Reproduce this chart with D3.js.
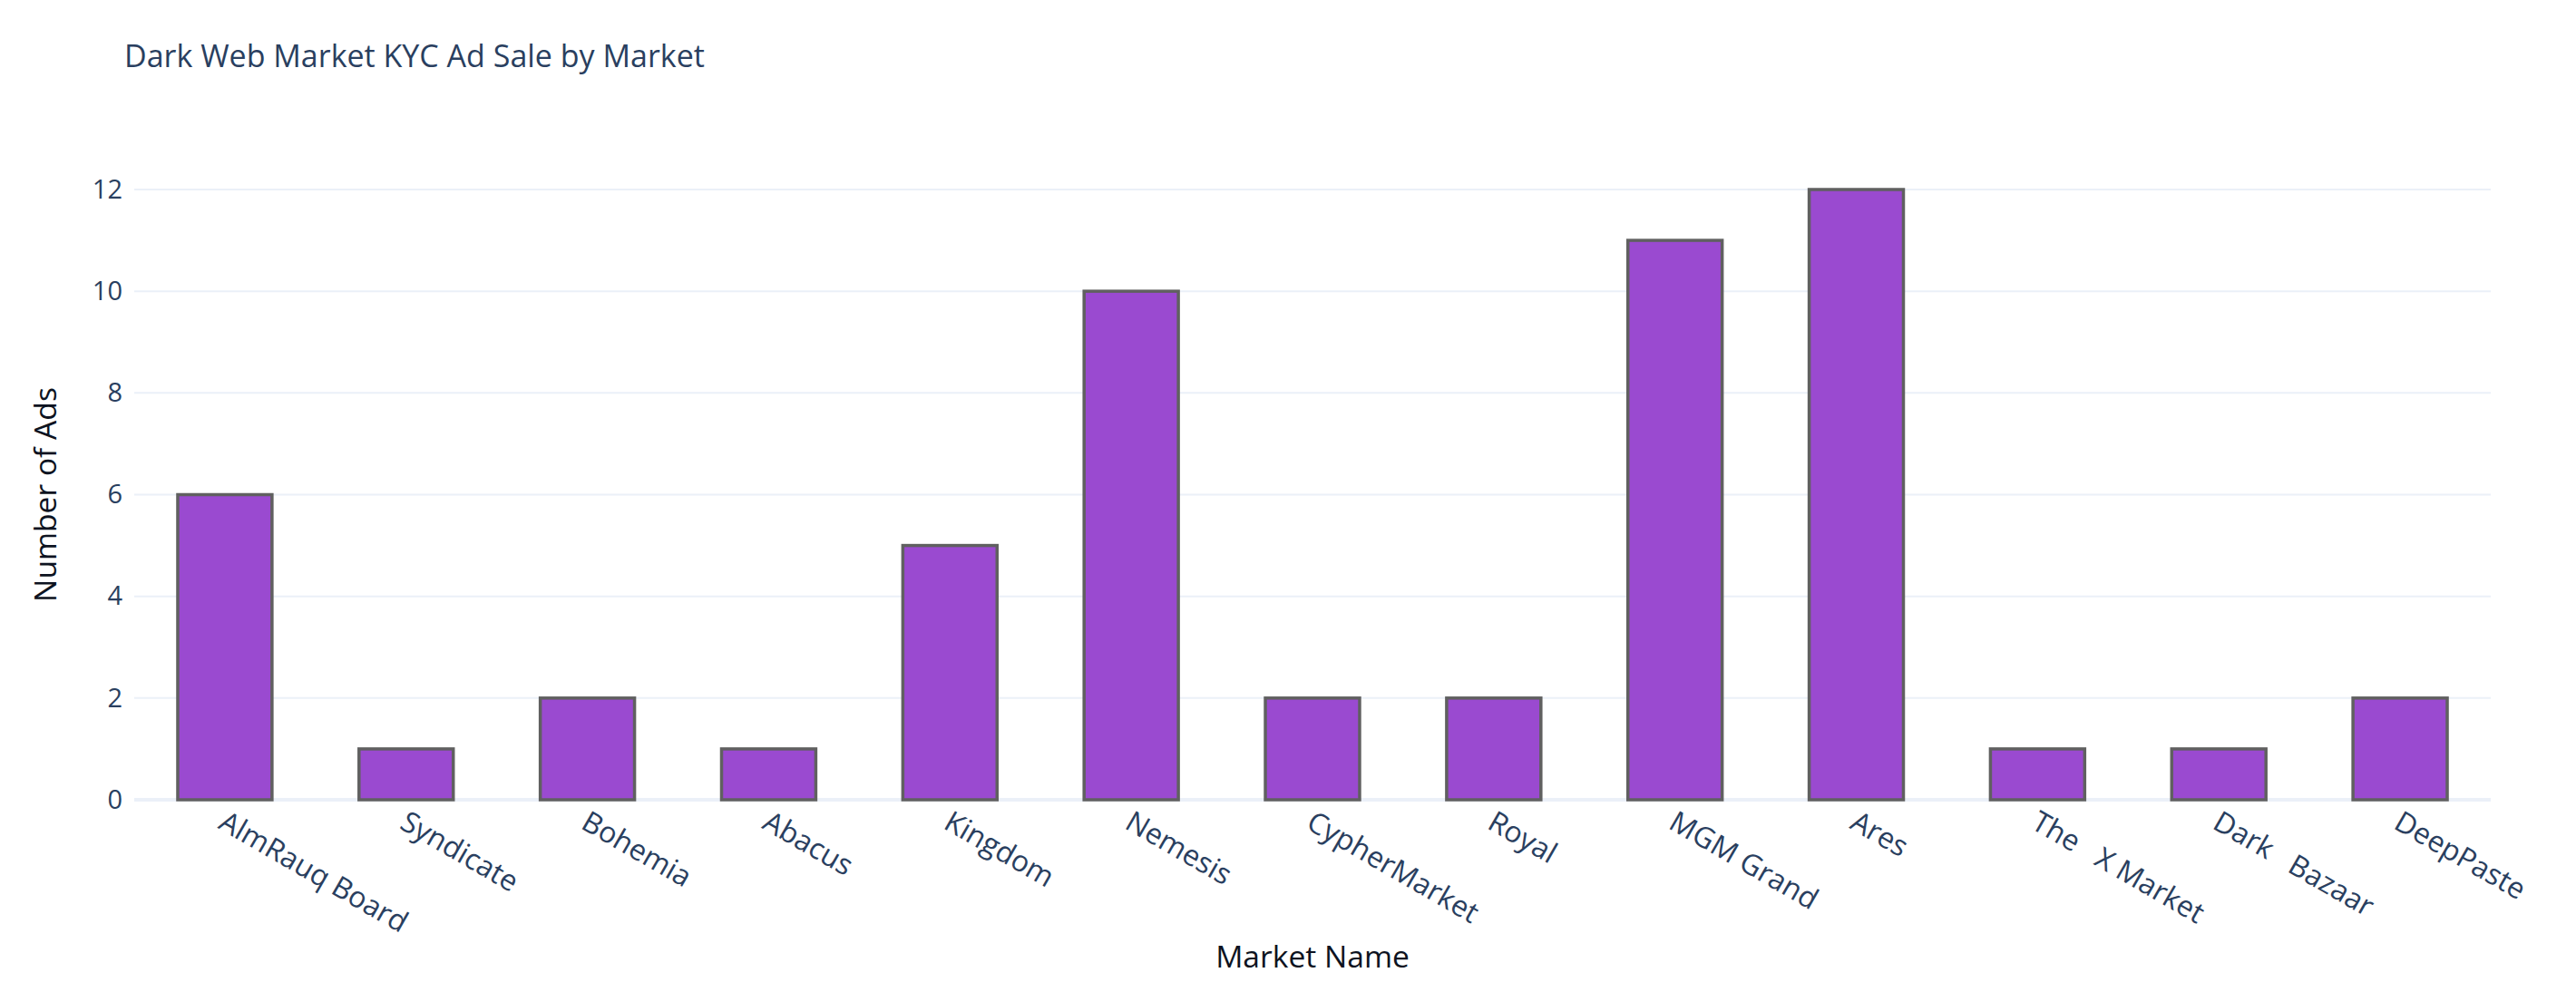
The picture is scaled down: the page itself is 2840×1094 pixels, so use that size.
<!DOCTYPE html>
<html>
<head>
<meta charset="utf-8">
<script src="https://cdn.jsdelivr.net/npm/d3@7"></script>
<style>
  html, body { margin: 0; padding: 0; background: #fff; }
  svg text { font-family: "Open Sans", "DejaVu Sans", sans-serif; }
</style>
</head>
<body>
<svg id="chart" width="2840" height="1094"></svg>
<script>
const chartTitle = "Dark Web Market KYC Ad Sale by Market";
const xAxisTitle = "Market Name";
const yAxisTitle = "Number of Ads";
const markets = ["AlmRauq Board", "Syndicate", "Bohemia", "Abacus", "Kingdom", "Nemesis",
  "CypherMarket", "Royal", "MGM Grand", "Ares", "The   X Market", "Dark   Bazaar", "DeepPaste"];
const adCounts = [6, 1, 2, 1, 5, 10, 2, 2, 11, 12, 1, 1, 2];
const yTicks = [0, 2, 4, 6, 8, 10, 12];

const svg = d3.select("#chart");
const W = 2840, H = 1094;
const plotL = 148, plotR = 2746;
const plotT = 209, plotB = 882;

const x = d3.scaleBand().domain(markets).range([plotL, plotR]).paddingInner(0.48).paddingOuter(0.24);
const y = d3.scaleLinear().domain([0, d3.max(yTicks)]).range([plotB, plotT]);

const tickColor = "#2a3f5f";
const gridColor = "#EBF0F8";
const axisTitleColor = "#0d1321";

// gridlines
svg.append("g").selectAll("line").data(yTicks.filter(d => d !== 0)).join("line")
  .attr("x1", plotL).attr("x2", plotR)
  .attr("y1", d => y(d)).attr("y2", d => y(d))
  .attr("stroke", gridColor).attr("stroke-width", 2);

// y axis labels via d3 axis
const yAxis = d3.axisLeft(y).tickValues(yTicks).tickSize(0).tickPadding(10).tickFormat(d3.format("d"));
const yg = svg.append("g").attr("transform", `translate(${plotL - 3},0)`).call(yAxis);
yg.select(".domain").remove();
yg.selectAll("text").attr("fill", tickColor).style("font-size", "29px")
  .style("font-family", '"Open Sans", sans-serif');

// zero line
svg.append("line").attr("x1", plotL).attr("x2", plotR)
  .attr("y1", y(0)).attr("y2", y(0))
  .attr("stroke", gridColor).attr("stroke-width", 4);

// bars
svg.append("g").selectAll("rect").data(markets).join("rect")
  .attr("x", d => x(d))
  .attr("width", x.bandwidth())
  .attr("y", (d, i) => y(adCounts[i]))
  .attr("height", (d, i) => y(0) - y(adCounts[i]))
  .attr("fill", "#9a4ad0")
  .attr("stroke", "#606060")
  .attr("stroke-width", 3.5);

// x axis labels
const xAxis = d3.axisBottom(x).tickSize(0).tickPadding(0);
const xg = svg.append("g").attr("transform", `translate(0,${plotB})`).call(xAxis);
xg.select(".domain").remove();
xg.selectAll(".tick text")
  .attr("fill", tickColor)
  .style("font-size", "32px")
  .style("font-family", '"Open Sans", sans-serif')
  .style("white-space", "pre")
  .attr("text-anchor", "start")
  .attr("x", 0).attr("y", 0).attr("dy", "0.35em")
  .attr("transform", "translate(-3,21) rotate(30)");

// titles
svg.append("text").attr("x", 137).attr("y", 74)
  .attr("fill", tickColor).style("font-size", "34px").text(chartTitle);

svg.append("text").attr("x", (plotL + plotR) / 2).attr("y", 1067)
  .attr("text-anchor", "middle").attr("fill", axisTitleColor).style("font-size", "33.6px").text(xAxisTitle);

svg.append("text")
  .attr("transform", `translate(62,${(plotT + plotB) / 2}) rotate(-90)`)
  .attr("text-anchor", "middle").attr("fill", axisTitleColor).style("font-size", "33.6px").text(yAxisTitle);
</script>
</body>
</html>
